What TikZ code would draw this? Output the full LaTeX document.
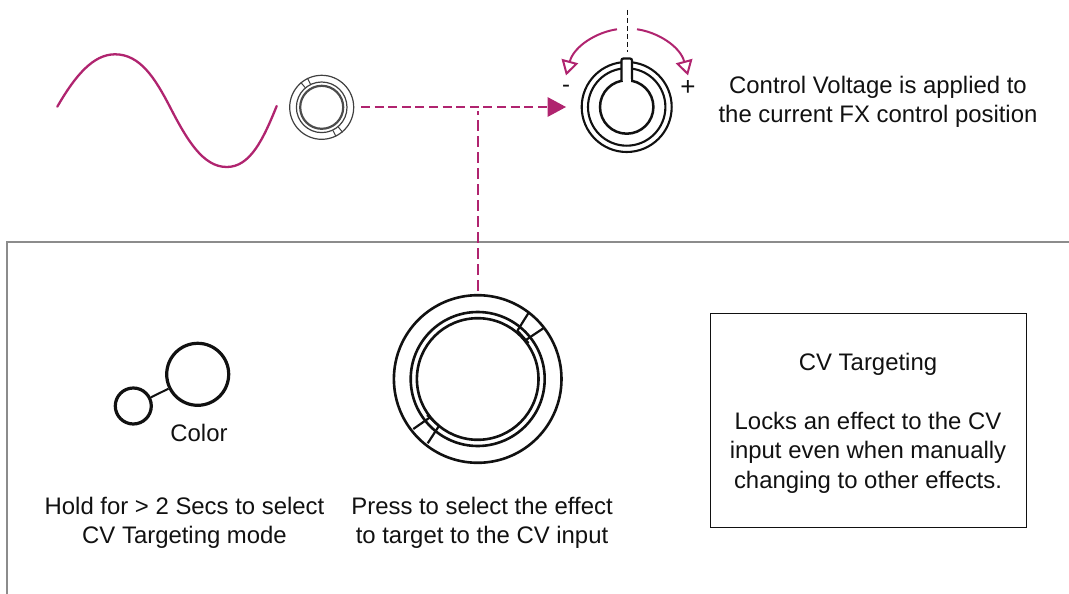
\documentclass[tikz,border=0pt]{standalone}
\usepackage{fontspec}
\setmainfont{Liberation Sans}
\usetikzlibrary{arrows.meta}
\definecolor{mag}{HTML}{B0246F}
\definecolor{framegray}{HTML}{8C8C8C}
\definecolor{ink}{HTML}{111111}
\tikzset{
  x=1pt,y=-1pt,
  lbl/.style={font=\fontsize{23.9}{29.5}\selectfont,align=center,inner sep=0pt,text=ink},
  ring/.style={circle,draw=ink,inner sep=0pt,line width=#1},
  ring/.default=2.1pt,
  cvh/.style={draw=mag,line width=2.5pt,dash pattern=on 9pt off 4.6pt},
  cvv/.style={draw=mag,line width=2.5pt,dash pattern=on 11pt off 5pt},
  curve/.style={draw=mag,line width=2.3pt},
  sweep/.style={draw=mag,line width=2pt,-{Triangle[open,length=15pt,width=17pt,line width=2pt]}},
  tick/.style={draw=ink,line width=2.2pt},
}
\begin{document}
\begin{tikzpicture}
\useasboundingbox (0,0) rectangle (1069,594);
% frame
\coordinate (fa) at (7,594);
\coordinate (fb) at (7,242);
\coordinate (fc) at (1069,242);
\draw[framegray,line width=1.4pt] (fa) -- (fb) -- (fc);
% sine
\coordinate (s0) at (57.3,106.7);
\coordinate (s1) at (115,54.3);
\coordinate (s2) at (170,107);
\coordinate (s3) at (226.7,167);
\coordinate (s4) at (276.7,106);
\draw[curve,line cap=round] (s0) .. controls (75,76) and (93,54.3) .. (s1)
  .. controls (140,54.3) and (155,78) .. (s2)
  .. controls (187,140) and (203,167) .. (s3)
  .. controls (250,167) and (263,140) .. (s4);
% small jack
\node[ring=1.2pt,minimum size=64pt,draw=black!75] (jo) at (321.7,107.3) {};
\node[ring=1.2pt,minimum size=50.6pt,draw=black!75] (jm) at (321.7,107.3) {};
\node[ring=2.2pt,minimum size=43pt,draw=black!70] (ji) at (321.7,107.3) {};
\draw[black!75,line width=1pt] (jm.130) -- (jo.130) (jm.116) -- (jo.116) (jm.-50) -- (jo.-50) (jm.-64) -- (jo.-64);
% dashed
\coordinate (d0) at (361,107);
\coordinate (d1) at (547.5,107);
\coordinate (v0) at (478,111);
\coordinate (v1) at (478,290.5);
\draw[cvh] (d0) -- (d1);
\draw[cvv] (v1) -- (v0);
\coordinate (a1) at (547.5,97);
\coordinate (a2) at (547.5,117);
\coordinate (a3) at (566,107);
\fill[mag] (a1) -- (a3) -- (a2) -- cycle;
% knob
\node[ring,minimum size=90pt] (ko) at (626.7,107) {};
\node[ring,minimum size=77.4pt] (km) at (626.7,107) {};
\node[ring=2.5pt,minimum size=53.4pt] (ki) at (626.7,107) {};
\coordinate (p0) at (621.4,81);
\coordinate (p1) at (632,81);
\filldraw[fill=white,draw=ink,line width=2.2pt,rounded corners=2pt] (p0) -- (621.4,58.5) -- (632,58.5) -- (p1);
\fill[white] (622.5,79) rectangle (630.9,84);
% center dashed
\coordinate (c0) at (627,10);
\coordinate (c1) at (627,52);
\draw[ink,line width=1pt,dash pattern=on 5pt off 3pt] (c0) -- (c1);
% sweep arrows
\coordinate (l0) at (617,29.3);
\coordinate (l1) at (566,75.5);
\coordinate (r0) at (637,29.3);
\coordinate (r1) at (688,75.5);
\draw[sweep] (l0) .. controls (597,32) and (574,46) .. (l1);
\draw[sweep] (r0) .. controls (657,32) and (680,46) .. (r1);
\node[lbl] (minus) at (566,88.5) {-};
\node[lbl,font=\fontsize{26}{29.5}\selectfont] (plus) at (688,88) {+};
\node[lbl] (t1) at (878,102) {Control Voltage is applied to\\the current FX control position};
% big encoder
\node[ring=2.6pt,minimum size=167.6pt] (bo) at (477.7,379) {};
\node[ring=2.6pt,minimum size=134pt] (bm) at (477.7,379) {};
\node[ring=2.6pt,minimum size=121.6pt] (bi) at (477.7,379) {};
\coordinate (q1) at (528.3,313.3); \coordinate (q2) at (517.2,331);
\coordinate (q3) at (543.3,328.3); \coordinate (q4) at (526.2,339.8);
\coordinate (q5) at (413.3,429); \coordinate (q6) at (430.5,417);
\coordinate (q7) at (427.7,443.3); \coordinate (q8) at (438.8,426.2);
\draw[tick] (q1) -- (q2) (q3) -- (q4) (q5) -- (q6) (q7) -- (q8);
\coordinate (q9) at (517.7,331); \coordinate (q10) at (528.5,343);
\coordinate (q11) at (427,415); \coordinate (q12) at (439,426);
\draw[tick] (q9) -- (q10) (q11) -- (q12);
% color
\node[ring=3.2pt,minimum size=62pt] (cb) at (197.7,374.3) {};
\node[ring=3.2pt,minimum size=36pt] (cs) at (133.3,406) {};
\draw[ink,line width=2pt] (cs) -- (cb);
\node[lbl] (col) at (199,432.5) {Color};
\node[lbl] (t2) at (184.5,523) {Hold for > 2 Secs to select\\CV Targeting mode};
\node[lbl] (t3) at (482,523) {Press to select the effect\\to target to the CV input};
% box
\node[lbl,draw=ink,line width=.9pt,minimum width=316pt,minimum height=214pt] (box) at (868,420) {};
\node[lbl] (boxtext) at (868,423) {CV Targeting\\[29.5pt]Locks an effect to the CV\\input even when manually\\changing to other effects.};
\end{tikzpicture}
\end{document}
